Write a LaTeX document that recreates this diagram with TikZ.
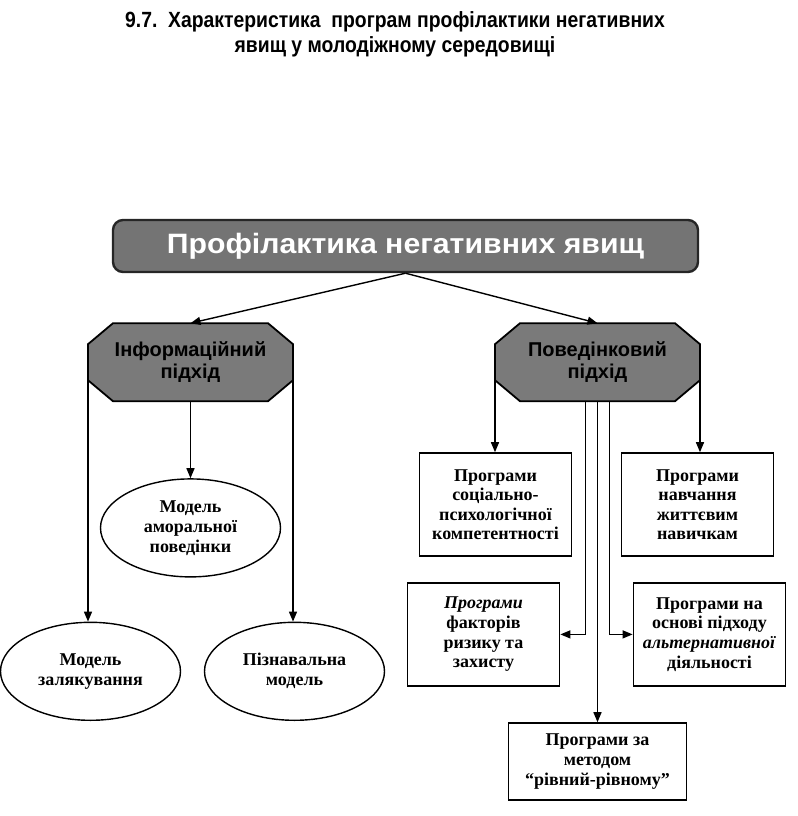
\documentclass[tikz,border=0pt]{standalone}
\usepackage{fontspec}
\setmainfont{Liberation Serif}
\newfontfamily\titulo[FakeStretch=0.88]{Liberation Sans}
\newfontfamily\rotulo{Liberation Sans}
\newfontfamily\rotuloancho[FakeStretch=1.08]{Liberation Sans}
\usetikzlibrary{positioning,arrows.meta,shapes.geometric,backgrounds,calc}
\definecolor{grisosc}{HTML}{7A7A7A}
\definecolor{grisbox}{HTML}{747474}
% octagono detras de un nodo
\newcommand{\octagono}[1]{%
  \draw[fill=grisosc, line width=0.9pt]
    ([xshift=12.5pt]#1.north west) -- ([xshift=-12.5pt]#1.north east)
    -- ([yshift=-10.5pt]#1.north east) -- ([yshift=10.5pt]#1.south east)
    -- ([xshift=-12.5pt]#1.south east) -- ([xshift=12.5pt]#1.south west)
    -- ([yshift=10.5pt]#1.south west) -- ([yshift=-10.5pt]#1.north west) -- cycle;}

\begin{document}
\begin{tikzpicture}[>={Triangle[length=5pt,width=4pt]}, line width=0.7pt,
      caja/.style={draw, line width=0.9pt, minimum width=76pt, minimum height=51.5pt, align=center,
                   inner sep=1pt, font=\bfseries\fontsize{9}{9.8}\selectfont},
      elipse/.style={draw, ellipse, minimum width=90pt, minimum height=49pt, align=center,
                   inner sep=0pt, font=\bfseries\fontsize{9}{10}\selectfont},
      octa/.style={minimum width=102.5pt, minimum height=39pt, outer sep=0pt, align=center,
                   font=\rotulo\bfseries\fontsize{10}{11}\selectfont}]
    \useasboundingbox (0,0) rectangle (399pt,-408pt);
    \node[align=center, font=\titulo\bfseries\fontsize{11}{12.5}\selectfont] (tit) at (197.5pt,-17pt)
      {9.7.~~Характеристика~~програм профілактики негативних\\явищ у молодіжному середовищі};
    \node[draw=black!85, fill=grisbox, rounded corners=5pt, line width=1.2pt, minimum width=292.5pt,
          minimum height=26pt, text=white, font=\rotuloancho\bfseries\fontsize{14}{15}\selectfont]
          (prof) at (202.75pt,-123pt) {Профілактика негативних явищ};
    \node[octa, below=25pt of prof, xshift=-107.5pt] (inf) {Інформаційний\\підхід};
    \node[octa, below=25pt of prof, xshift=96pt] (pov) {Поведінковий\\підхід};
    \node[elipse, below=38.5pt of inf] (amor) {Модель\\аморальної\\поведінки};
    \node[elipse, below=22pt of amor, xshift=-50pt] (zal) {Модель\\залякування};
    \node[elipse, below=22pt of amor, xshift=52pt] (pizn) {Пізнавальна\\модель};
    \node[caja, below=25.5pt of pov, xshift=-51pt] (soc) {Програми\\соціально-\\психологічної\\компетентності};
    \node[caja, below=25.5pt of pov, xshift=50pt] (navch) {Програми\\навчання\\життєвим\\навичкам};
    \node[caja, below=12.5pt of soc, xshift=-6pt] (fakt) {\textit{Програми}\\факторів\\ризику та\\захисту};
    \node[caja, below=12.5pt of navch, xshift=6pt] (alt) {Програми на\\основі підходу\\\textit{альтернативної}\\діяльності};
    \node[caja, minimum width=89pt, minimum height=38.5pt, below=160.5pt of pov] (riv) {Програми за\\методом\\“рівний-рівному”};
    \begin{scope}[on background layer]
      \octagono{inf}
      \octagono{pov}
    \end{scope}
    \draw[->] (prof.south) -- (inf.north);
    \draw[->] (prof.south) -- (pov.north);
    \draw[->] (inf.west) -- (inf.west |- zal.north);
    \draw[->] (inf.south) -- (amor.north);
    \draw[->] (inf.east) -- (inf.east |- pizn.north);
    \draw[->] (pov.west) -- (pov.west |- soc.north);
    \draw[->] (pov.east) -- (pov.east |- navch.north);
    \draw[->] ([xshift=-6pt]pov.south) |- (fakt.east);
    \draw[->] ([xshift=6pt]pov.south) |- (alt.west);
    \draw[->] (pov.south) -- (riv.north);
  \end{tikzpicture}
\end{document}
